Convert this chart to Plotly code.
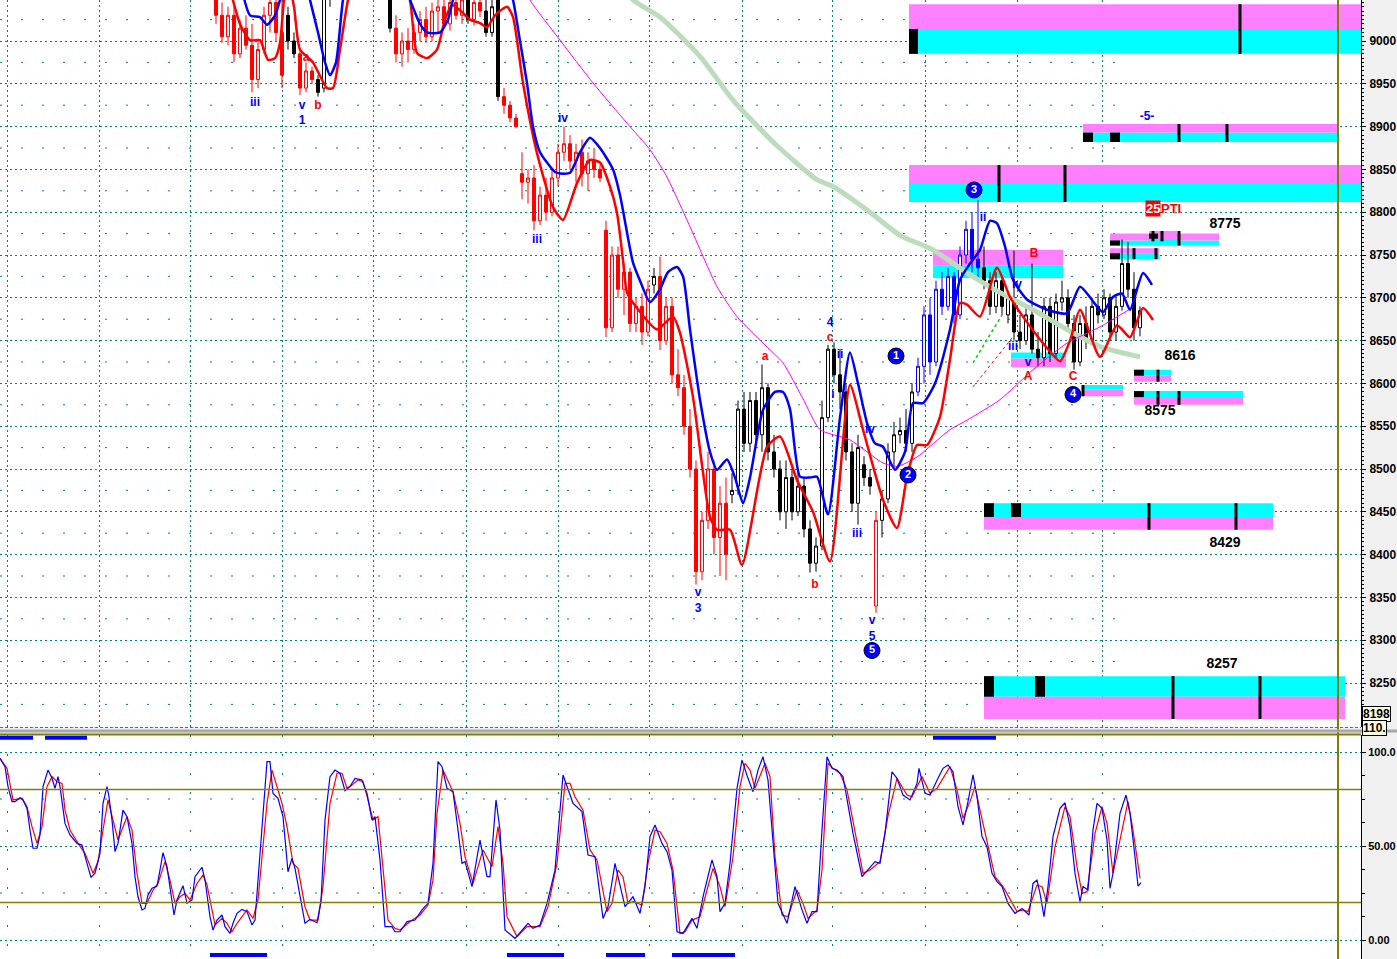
import plotly.graph_objects as go

# ---------------- price bars (one bar every 6 time units) ----------------
bar_t = list(range(216, 1141, 6))
opens = [9050, 9030, 9005, 9030, 8985, 9015, 8995, 8955, 8990, 9030,
         9045, 9010, 9030, 9000, 8985, 8945, 8965, 8955, 8945, 9050,
         9070, 9085, 9095, 9090, 9080, 9075, 9070, 9065, 9060, 9055,
         9015, 8985, 9000, 8990, 9010, 9025, 9005, 9035, 9040, 9020,
         9045, 9030, 9048, 9025, 9045, 9035, 9010, 9060, 8935, 8925,
         8910, 8845, 8835, 8840, 8790, 8820, 8800, 8840, 8870, 8880,
         8860, 8870, 8845, 8860, 8850, 8779, 8665, 8750, 8710, 8730,
         8670, 8690, 8660, 8715, 8725, 8650, 8690, 8610, 8595, 8550,
         8500, 8380, 8440, 8500, 8420, 8460, 8470, 8480, 8570, 8530,
         8580, 8540, 8595, 8520, 8500, 8450, 8490, 8450, 8480, 8430,
         8390, 8410, 8560, 8640, 8610, 8590, 8520, 8460, 8505, 8490,
         8340, 8440, 8465, 8520, 8540, 8545, 8530, 8590, 8620, 8680,
         8625, 8710, 8690, 8725, 8680, 8750, 8780, 8745, 8735, 8720,
         8690, 8720, 8680, 8700, 8660, 8650, 8680, 8640, 8630, 8690,
         8635, 8695, 8700, 8670, 8625, 8670, 8650, 8690, 8680, 8700,
         8660, 8690, 8740, 8710, 8665]
highs = [9065, 9045, 9040, 9040, 9025, 9030, 9020, 9000, 9040, 9060,
         9060, 9050, 9040, 9010, 8990, 8975, 8970, 8960, 9060, 9080,
         9095, 9105, 9110, 9100, 9095, 9090, 9085, 9080, 9075, 9070,
         9030, 9010, 9015, 9020, 9035, 9040, 9045, 9055, 9060, 9050,
         9060, 9055, 9060, 9052, 9060, 9055, 9050, 9065, 8945, 8930,
         8915, 8870, 8850, 8855, 8830, 8840, 8850, 8880, 8900, 8890,
         8880, 8885, 8870, 8875, 8855, 8790, 8760, 8760, 8740, 8735,
         8700, 8705, 8720, 8735, 8748, 8700, 8700, 8640, 8610, 8570,
         8510, 8450, 8520, 8510, 8480, 8490, 8495, 8580, 8590, 8590,
         8590, 8622, 8600, 8540, 8510, 8510, 8500, 8500, 8490, 8440,
         8420, 8580, 8645, 8648, 8640, 8600, 8530, 8540, 8515, 8500,
         8450, 8475, 8530, 8555, 8560, 8570, 8600, 8630, 8690, 8700,
         8720, 8730, 8735, 8730, 8760, 8790, 8800, 8814, 8760, 8730,
         8730, 8725, 8705, 8755, 8680, 8690, 8740, 8660, 8700, 8700,
         8705, 8720, 8710, 8680, 8680, 8690, 8700, 8705, 8710, 8705,
         8700, 8768, 8765, 8730, 8690]
lows = [9020, 8998, 8995, 8975, 8980, 8990, 8940, 8945, 8985, 9010,
        9000, 8945, 8990, 8980, 8937, 8940, 8950, 8935, 8940, 9040,
        9060, 9075, 9080, 9070, 9065, 9060, 9058, 9055, 9052, 9010,
        8975, 8970, 8975, 8985, 9000, 8998, 9000, 9010, 9015, 9012,
        9025, 9020, 9020, 9018, 9028, 9005, 9005, 8930, 8915, 8905,
        8898, 8815, 8810, 8779, 8785, 8790, 8795, 8830, 8860, 8850,
        8835, 8830, 8825, 8840, 8835, 8654, 8660, 8700, 8680, 8660,
        8660, 8645, 8655, 8705, 8639, 8645, 8600, 8585, 8540, 8490,
        8365, 8370, 8430, 8400, 8375, 8370, 8460, 8470, 8520, 8520,
        8530, 8520, 8510, 8490, 8440, 8430, 8440, 8445, 8420, 8379,
        8380, 8405, 8555, 8600, 8570, 8510, 8450, 8435, 8480, 8470,
        8332, 8420, 8460, 8500, 8530, 8520, 8520, 8585, 8600, 8610,
        8620, 8680, 8685, 8670, 8675, 8740, 8730, 8720, 8710, 8680,
        8682, 8680, 8670, 8650, 8640, 8645, 8635, 8620, 8620, 8625,
        8630, 8685, 8665, 8616, 8620, 8640, 8645, 8670, 8675, 8650,
        8650, 8685, 8700, 8650, 8655]
closes = [9030, 9005, 9030, 8985, 9015, 8995, 8955, 8990, 9030, 9045,
          9010, 8960, 9000, 8985, 8945, 8965, 8955, 8940, 9050, 9070,
          9085, 9095, 9090, 9080, 9075, 9070, 9065, 9060, 9055, 9015,
          8985, 9000, 8990, 9010, 9025, 9005, 9035, 9040, 9020, 9045,
          9030, 9048, 9025, 9045, 9035, 9010, 9040, 8935, 8925, 8910,
          8900, 8835, 8840, 8790, 8820, 8800, 8840, 8870, 8880, 8860,
          8870, 8845, 8860, 8850, 8840, 8665, 8750, 8710, 8730, 8670,
          8690, 8660, 8710, 8725, 8650, 8690, 8610, 8595, 8550, 8500,
          8380, 8440, 8500, 8420, 8460, 8400, 8475, 8570, 8530, 8580,
          8540, 8595, 8520, 8500, 8450, 8490, 8450, 8480, 8430, 8390,
          8410, 8560, 8640, 8610, 8590, 8520, 8460, 8525, 8490, 8480,
          8440, 8465, 8520, 8540, 8545, 8530, 8590, 8620, 8680, 8625,
          8710, 8690, 8725, 8680, 8750, 8780, 8745, 8735, 8720, 8690,
          8720, 8690, 8700, 8660, 8650, 8680, 8640, 8630, 8690, 8635,
          8695, 8700, 8670, 8625, 8670, 8650, 8690, 8680, 8700, 8660,
          8690, 8740, 8710, 8665, 8685]
# trend state of each bar: D = down (red), N = neutral (black), U = up (blue)
regime_runs = [("D", 12), ("N", 2), ("D", 3), ("N", 13), ("D", 12), ("N", 1), ("D", 2),
               ("N", 3), ("D", 25), ("N", 1), ("D", 12), ("N", 24), ("D", 1), ("N", 6),
               ("U", 11), ("N", 27)]

# ---------------- overlay curves (time, price) ----------------
blue_t = [240, 250, 260, 267, 275, 280, 286, 300, 306, 310, 318, 325, 330, 336, 343, 350, 370, 400, 410, 420,
          427, 440, 448, 453, 460, 490, 508, 513, 520, 527, 533, 540, 547, 555, 563, 570, 580, 590, 600, 613,
          620, 633, 640, 650, 660, 668, 677, 683, 690, 700, 710, 717, 727, 735, 743, 750, 763, 775, 783, 790,
          800, 810, 817, 828, 840, 850, 858, 867, 875, 883, 895, 905, 913, 923, 935, 950, 960, 970, 980, 990,
          997, 1005, 1013, 1027, 1047, 1067, 1080, 1097, 1103, 1113, 1122, 1130, 1143, 1152]
blue_p = [9070, 9030, 9028, 9019, 9030, 9048, 9075, 9090, 9070, 9048, 9010, 8975, 8960, 8975, 9048, 9080, 9100, 9080, 9048, 9020,
          9010, 9010, 9025, 9048, 9070, 9080, 9065, 9048, 9000, 8951, 8900, 8870, 8858, 8847, 8845, 8846, 8870, 8887, 8875, 8850,
          8820, 8741, 8720, 8695, 8710, 8730, 8736, 8725, 8663, 8581, 8520, 8499, 8511, 8490, 8460, 8490, 8569, 8590, 8590, 8570,
          8491, 8490, 8491, 8447, 8560, 8636, 8600, 8554, 8530, 8526, 8499, 8520, 8577, 8577, 8600, 8663, 8721, 8740, 8756, 8790,
          8787, 8760, 8721, 8698, 8686, 8682, 8713, 8690, 8683, 8701, 8705, 8686, 8729, 8715]
red_t = [228, 240, 250, 260, 268, 275, 280, 284, 288, 294, 300, 313, 327, 333, 340, 348, 355, 400, 410, 417,
         427, 437, 445, 452, 460, 470, 480, 487, 495, 507, 513, 523, 537, 553, 563, 577, 590, 600, 610, 617,
         623, 627, 637, 657, 673, 680, 693, 710, 717, 730, 742, 767, 780, 797, 813, 830, 850, 863, 883, 897,
         907, 917, 927, 940, 950, 960, 967, 980, 997, 1010, 1023, 1043, 1060, 1070, 1080, 1100, 1117, 1130, 1143, 1153]
red_p = [9070, 9020, 9001, 9001, 8978, 8980, 8998, 9048, 9070, 9040, 8990, 8975, 8945, 8945, 8990, 9048, 9075, 9080, 9048, 8986,
         8980, 8990, 9025, 9042, 9036, 9025, 9021, 9016, 9030, 9040, 9028, 8951, 8869, 8806, 8791, 8834, 8861, 8858, 8830, 8799,
         8744, 8706, 8688, 8663, 8678, 8659, 8584, 8444, 8429, 8429, 8388, 8526, 8538, 8487, 8450, 8392, 8598, 8546, 8464, 8431,
         8491, 8528, 8528, 8561, 8628, 8694, 8692, 8678, 8735, 8701, 8678, 8647, 8626, 8650, 8686, 8631, 8668, 8654, 8688, 8674]
mag_t = [525, 530, 560, 593, 627, 650, 667, 690, 717, 737, 763, 783, 803, 820, 850, 883, 897, 917, 950, 967,
         1000, 1033, 1067, 1100, 1133]
mag_p = [9065, 9048, 9001, 8951, 8904, 8873, 8841, 8783, 8713, 8678, 8647, 8624, 8582, 8546, 8534, 8507, 8503, 8514, 8546, 8557,
         8581, 8616, 8647, 8666, 8689]
grn_t = [628, 633, 660, 700, 733, 775, 817, 833, 870, 900, 933, 967, 1000, 1033, 1067, 1100, 1140]
grn_p = [9060, 9048, 9028, 8982, 8931, 8880, 8838, 8830, 8800, 8773, 8756, 8729, 8706, 8686, 8663, 8643, 8631]
proj_green_t = [973, 1002]
proj_green_p = [8624, 8680]
proj_red_t = [973, 1012]
proj_red_p = [8596, 8653]

# ---------------- wave labels ----------------
blue_lbl_t = [255, 302, 302, 537, 563, 698, 698, 830, 840, 833, 857, 870, 872, 872, 983, 1017, 1013, 1028, 1147]
blue_lbl_p = [8927, 8924, 8906, 8768, 8909, 8355, 8337, 8671, 8633, 8587, 8424, 8546, 8322, 8304, 8793, 8715, 8642, 8624, 8911]
blue_lbl = ["iii", "v", "1", "iii", "iv", "v", "3", "4", "ii", "i", "iii", "iv", "v", "5", "ii", "iv", "iii", "v", "-5-"]
red_lbl_t = [306, 318, 765, 815, 830, 1034, 1028, 1073]
red_lbl_p = [8980, 8924, 8631, 8365, 8653, 8751, 8608, 8607]
red_lbl = ["a", "b", "a", "b", "c", "B", "A", "C"]
circ_t = [896, 908, 974, 1073, 872]
circ_p = [8632, 8493, 8826, 8587, 8288]
circ_lbl = ["1", "2", "3", "4", "5"]
lvl_t = [1225, 1180, 1160, 1225, 1222]
lvl_p = [8786, 8632, 8567, 8413, 8272]
lvl_lbl = ["8775", "8616", "8575", "8429", "8257"]

# ---------------- projection zones ----------------
zone_t0 = [909, 1083, 909, 933, 1011, 1082, 1110, 1149, 1110, 1134, 1134, 984, 984]
zone_t1 = [1361, 1338, 1361, 1063, 1066, 1123, 1219, 1177, 1159, 1171, 1243, 1273, 1345]
zone_mag_lo = [9014, 8893, 8834, 8738, 8619, 8585, 8767, 8768, 8752, 8602, 8575, 8429, 8208]
zone_mag_hi = [9043, 8903, 8855, 8756, 8629, 8593, 8775, 8778, 8758, 8609, 8584, 8444, 8234]
zone_cyan_lo = [8985, 8882, 8812, 8723, 8629, 8593, 8761, 8761, 8745, 8609, 8584, 8444, 8234]
zone_cyan_hi = [9014, 8893, 8834, 8738, 8636, 8598, 8767, 8768, 8752, 8616, 8591, 8460, 8258]
blk_t0 = [909, 1083, 1110, 1110, 1149, 1110, 1134, 1134, 984, 1011, 984, 1035]
blk_t1 = [918, 1093, 1120, 1120, 1158, 1120, 1144, 1144, 994, 1021, 994, 1045]
blk_lo = [8985, 8882, 8882, 8761, 8769, 8745, 8609, 8584, 8444, 8444, 8234, 8234]
blk_hi = [9014, 8893, 8893, 8767, 8775, 8752, 8616, 8591, 8460, 8460, 8258, 8258]
tick_t = [1240, 1179, 1227, 999, 1065, 1083, 1153, 1162, 1179, 1134, 1156, 1158, 1158, 1179, 1149, 1236, 1173, 1260]
tick_lo = [8985, 8882, 8882, 8812, 8812, 8585, 8766, 8766, 8761, 8745, 8745, 8602, 8575, 8575, 8429, 8429, 8208, 8208]
tick_hi = [9043, 8903, 8903, 8855, 8855, 8598, 8778, 8778, 8778, 8758, 8758, 8616, 8591, 8591, 8460, 8460, 8258, 8258]

# ---------------- stochastic ----------------
k_t = [0, 5, 8, 12, 15, 20, 23, 27, 30, 33, 37, 40, 43, 48, 52, 55, 58, 60, 65, 70,
       77, 82, 87, 91, 95, 100, 103, 107, 109, 112, 115, 118, 123, 127, 132, 135, 138, 142, 145, 148,
       152, 157, 160, 163, 167, 171, 174, 177, 183, 187, 192, 195, 202, 205, 210, 213, 217, 222, 225, 230,
       233, 237, 242, 247, 252, 255, 257, 262, 267, 270, 273, 278, 283, 288, 292, 295, 300, 305, 310, 317,
       321, 325, 330, 335, 340, 345, 350, 355, 362, 367, 372, 375, 380, 385, 392, 395, 400, 407, 415, 422,
       428, 433, 438, 442, 447, 453, 458, 462, 465, 472, 480, 487, 490, 496, 500, 505, 515, 528, 533, 540,
       547, 555, 563, 568, 573, 582, 588, 595, 603, 608, 615, 618, 625, 633, 640, 645, 650, 655, 662, 667,
       672, 677, 683, 692, 697, 703, 712, 717, 720, 725, 730, 737, 742, 748, 753, 758, 763, 768, 773, 778,
       787, 795, 802, 807, 812, 817, 822, 827, 832, 837, 843, 848, 853, 862, 870, 875, 880, 885, 892, 897,
       903, 910, 917, 919, 925, 930, 938, 943, 948, 953, 958, 963, 968, 973, 977, 982, 987, 992, 997, 1002,
       1008, 1015, 1022, 1029, 1033, 1037, 1040, 1044, 1048, 1053, 1060, 1065, 1070, 1075, 1080, 1083, 1088, 1093, 1097, 1102,
       1107, 1110, 1113, 1120, 1126, 1130, 1135, 1138, 1141]
k_v = [96.6, 92.2, 81.6, 73.6, 73.6, 75.7, 74.5, 70, 58.5, 48.8, 48.8, 55.9, 81.6, 90.4, 86, 80.7, 86.9, 81.6, 62, 55.9,
       51.4, 50.5, 40.8, 33.3, 35.5, 46.1, 72.7, 81.6, 76.2, 63.8, 47, 51.4, 69.1, 65.6, 51.4, 33.7, 23, 16, 16.8, 23.9,
       27.5, 28.7, 37.2, 46.5, 39, 24.8, 13.3, 21.3, 28.9, 19.5, 21.3, 33.7, 38.7, 31.9, 12.4, 5.3, 10.6, 13.3, 7.1, 3.5,
       8.9, 14.2, 16.3, 15.1, 8, 10.6, 24.8, 63.8, 94.9, 94.9, 78, 75.4, 65.6, 36.3, 43.4, 38.1, 23, 8.9, 11, 9.2,
       20.4, 63.8, 86.9, 90.4, 88.7, 79.4, 81.6, 86, 85.1, 78, 63.8, 65.6, 42.6, 7.1, 7.1, 4.4, 4.4, 9.8, 10.6, 16,
       19.5, 40.8, 94.9, 92.2, 80.7, 78.9, 58.5, 40.8, 41.7, 28.4, 53.2, 33.7, 33.7, 74.5, 58.5, 5.3, 0.9, 8.9, 6.2, 8,
       19.5, 37.2, 87.8, 79.8, 72.7, 68.3, 45.2, 44.3, 11.5, 17.7, 40.8, 33.7, 17.7, 23, 14.2, 28.4, 55, 61.2, 51.4, 47,
       37.2, 4.4, 3.5, 11.5, 6.2, 23, 42.6, 33.7, 15.1, 19.5, 40.8, 80.7, 95.7, 86, 78.9, 90.4, 97.5, 85.1, 53.2, 19.5,
       8.9, 28.4, 16, 8.9, 15.1, 15.1, 58.5, 97.5, 91.3, 90.4, 86.9, 70.9, 56.7, 33.7, 39, 41.7, 40.8, 56.7, 89.5, 86,
       77.1, 74.5, 83.3, 91.3, 78, 77.1, 86, 91.3, 93.1, 89.5, 70.9, 61.2, 73.6, 87.8, 76.2, 55, 49.6, 35.5, 31, 28.4,
       19.5, 14.2, 16.8, 13.3, 30.1, 31.9, 24.8, 12.4, 28.4, 55, 70, 73, 60.3, 35.5, 20.4, 28.4, 26.6, 58.5, 72.7, 70,
       53.2, 27.5, 35.5, 67.4, 77.1, 67.4, 44.3, 28.7, 30.5]
d_t = [0, 7, 13, 22, 27, 32, 37, 42, 47, 52, 57, 62, 65, 70, 78, 85, 93, 98, 103, 108,
       113, 118, 127, 132, 137, 142, 147, 153, 158, 165, 170, 175, 180, 185, 190, 197, 203, 207, 215, 222,
       227, 232, 237, 247, 253, 258, 267, 272, 275, 282, 287, 293, 298, 305, 310, 318, 323, 330, 337, 342,
       347, 352, 358, 363, 368, 373, 378, 383, 388, 395, 400, 410, 420, 428, 433, 437, 443, 453, 460, 465,
       473, 483, 492, 498, 503, 507, 517, 527, 540, 548, 557, 565, 570, 575, 583, 590, 597, 607, 612, 618,
       623, 628, 633, 642, 648, 655, 660, 667, 673, 680, 685, 692, 700, 707, 713, 720, 725, 733, 740, 745,
       750, 755, 760, 765, 770, 775, 782, 788, 797, 803, 808, 817, 822, 828, 833, 840, 847, 853, 863, 870,
       880, 888, 897, 907, 912, 922, 930, 937, 950, 957, 963, 970, 975, 980, 987, 995, 1003, 1012, 1017, 1023,
       1028, 1037, 1042, 1047, 1055, 1065, 1070, 1077, 1082, 1087, 1095, 1102, 1107, 1113, 1120, 1128, 1133, 1140]
d_v = [96.6, 91.3, 74.5, 75.4, 70.9, 60.3, 51.4, 60.3, 81.6, 86.9, 84.2, 83.3, 69.1, 58.5, 51.4, 46.1, 35.5, 41.7, 58.5, 74.5,
       63.8, 53.2, 65.6, 58.5, 35.5, 19.5, 19.5, 26.6, 30.1, 41.7, 31.9, 19.5, 23, 24.8, 21.3, 30.1, 34.6, 29.3, 8, 11.5,
       8.9, 4.4, 8.9, 16, 11.5, 21.3, 72.7, 90.4, 85.1, 72.7, 60.3, 40.8, 38.1, 17.7, 10.6, 10.6, 28.4, 72.7, 88.7, 88.7,
       80.7, 82.4, 85.1, 84.2, 74.5, 63.8, 65.6, 37.2, 10.6, 6.2, 5.3, 9.8, 13.3, 18.6, 31.9, 67.4, 90.4, 78.9, 62, 44.3,
       30.1, 47.9, 39, 60.3, 40.8, 12.4, 1.8, 7.1, 7.1, 17.7, 40.8, 83.3, 83.3, 76.2, 69.1, 47.9, 42.6, 15.1, 19.5, 37.2,
       33.7, 19.5, 20.4, 18.6, 40.8, 58.5, 57.6, 51.4, 37.2, 3.5, 4.4, 10.6, 12.4, 26.6, 38.1, 28.4, 17.7, 44.3, 81.6, 94,
       90.4, 80.7, 86.9, 94, 86.9, 44.3, 13.3, 12.4, 26.6, 19.5, 11.5, 16, 37.2, 94, 91.3, 88.7, 79.8, 63.8, 35.5, 37.2,
       41.7, 66, 86, 77.1, 76.2, 86.9, 78, 80.7, 92.2, 79.8, 64.7, 73.6, 81.6, 69.1, 53.2, 33.7, 28.4, 19.5, 15.1, 16,
       15.1, 29.3, 28.4, 19.5, 49.6, 70.9, 65.6, 39, 24.8, 25.7, 56.7, 70.9, 62, 35.5, 53.2, 73.6, 58.5, 32.8]
sig_top_t0 = [0, 45, 933]
sig_top_t1 = [33, 87, 996]
sig_bot_t0 = [210, 507, 606, 672]
sig_bot_t1 = [267, 564, 645, 735]

# vertical grid (session boundaries)
grid_t = [7, 99, 190, 282, 373, 466, 558, 649, 742, 832, 925, 1017, 1102]
price_ticks = list(range(8250, 9001, 50))

# ======================================================================
FONT = "Liberation Sans"
TEAL = "#008080"
OLIVE = "#808000"

fig = go.Figure()

# long-term average (behind everything)
fig.add_trace(go.Scatter(x=grn_t, y=grn_p, mode="lines", line=dict(color="#bcdcbc", width=5, shape="spline", smoothing=0.6),
                         hoverinfo="skip", showlegend=False))

regimes = []
for code, n in regime_runs:
    regimes += [code] * n
regime_color = {"D": "#ff0000", "N": "#000000", "U": "#0000ff"}
for code, col in regime_color.items():
    idx = [i for i, r in enumerate(regimes) if r == code]
    fig.add_trace(go.Candlestick(
        x=[bar_t[i] for i in idx], open=[opens[i] for i in idx], high=[highs[i] for i in idx],
        low=[lows[i] for i in idx], close=[closes[i] for i in idx],
        increasing=dict(line=dict(color=col, width=1), fillcolor="white"),
        decreasing=dict(line=dict(color=col, width=1), fillcolor=col),
        whiskerwidth=0, hoverinfo="skip", showlegend=False))

fig.add_trace(go.Scatter(x=mag_t, y=mag_p, mode="lines", line=dict(color="#ff00ff", width=1, shape="spline", smoothing=0.6),
                         hoverinfo="skip", showlegend=False))
fig.add_trace(go.Scatter(x=red_t, y=red_p, mode="lines", line=dict(color="#ff0000", width=2.5, shape="spline", smoothing=0.6),
                         hoverinfo="skip", showlegend=False))
fig.add_trace(go.Scatter(x=blue_t, y=blue_p, mode="lines", line=dict(color="#0000ff", width=2.5, shape="spline", smoothing=0.6),
                         hoverinfo="skip", showlegend=False))
fig.add_trace(go.Scatter(x=proj_green_t, y=proj_green_p, mode="lines", line=dict(color="#00d000", width=1.5, dash="dot"),
                         hoverinfo="skip", showlegend=False))
fig.add_trace(go.Scatter(x=proj_red_t, y=proj_red_p, mode="lines", line=dict(color="#ff0000", width=1, dash="dot"),
                         hoverinfo="skip", showlegend=False))

# labels
fig.add_trace(go.Scatter(x=blue_lbl_t, y=blue_lbl_p, mode="text", text=blue_lbl,
                         textfont=dict(family=FONT, size=12, color="#0000ff", weight="bold"),
                         hoverinfo="skip", showlegend=False))
fig.add_trace(go.Scatter(x=red_lbl_t, y=red_lbl_p, mode="text", text=red_lbl,
                         textfont=dict(family=FONT, size=12, color="#ff0000", weight="bold"),
                         hoverinfo="skip", showlegend=False))
fig.add_trace(go.Scatter(x=circ_t, y=circ_p, mode="markers+text", text=circ_lbl, textposition="middle center",
                         marker=dict(size=16, color="#0000ff", line=dict(color="black", width=1)),
                         textfont=dict(family=FONT, size=11, color="white", weight="bold"),
                         hoverinfo="skip", showlegend=False))
fig.add_trace(go.Scatter(x=lvl_t, y=lvl_p, mode="text", text=lvl_lbl,
                         textfont=dict(family=FONT, size=14, color="black", weight="bold"),
                         hoverinfo="skip", showlegend=False))

# stochastic
fig.add_trace(go.Scatter(x=d_t, y=d_v, mode="lines", line=dict(color="#ff0000", width=1.2),
                         xaxis="x2", yaxis="y2", hoverinfo="skip", showlegend=False))
fig.add_trace(go.Scatter(x=k_t, y=k_v, mode="lines", line=dict(color="#0000ff", width=1.2),
                         xaxis="x2", yaxis="y2", hoverinfo="skip", showlegend=False))
sx, sy = [], []
for a, b in zip(sig_top_t0, sig_top_t1):
    sx += [a, b, None]
    sy += [107.6, 107.6, None]
for a, b in zip(sig_bot_t0, sig_bot_t1):
    sx += [a, b, None]
    sy += [-8.0, -8.0, None]
fig.add_trace(go.Scatter(x=sx, y=sy, mode="lines", line=dict(color="#0000ff", width=4),
                         xaxis="x2", yaxis="y2", hoverinfo="skip", showlegend=False))

# ---------------- shapes ----------------
shapes = []
for lvl in range(8225, 9049, 50):
    shapes.append(dict(type="line", xref="x", yref="y", x0=0, x1=1125, y0=lvl, y1=lvl, layer="below",
                       line=dict(color=TEAL, width=1, dash="2px,19px")))
for lvl in (25, 75):
    shapes.append(dict(type="line", xref="x2", yref="y2", x0=0, x1=1125, y0=lvl, y1=lvl, layer="below",
                       line=dict(color=TEAL, width=1, dash="2px,19px")))
for i in range(len(zone_t0)):
    shapes.append(dict(type="rect", xref="x", yref="y", x0=zone_t0[i], x1=zone_t1[i], y0=zone_cyan_lo[i], y1=zone_cyan_hi[i],
                       fillcolor="#00ffff", line=dict(width=0), layer="between"))
    shapes.append(dict(type="rect", xref="x", yref="y", x0=zone_t0[i], x1=zone_t1[i], y0=zone_mag_lo[i], y1=zone_mag_hi[i],
                       fillcolor="#ff80ff", line=dict(width=0), layer="between"))
for i in range(len(blk_t0)):
    shapes.append(dict(type="rect", xref="x", yref="y", x0=blk_t0[i], x1=blk_t1[i], y0=blk_lo[i], y1=blk_hi[i],
                       fillcolor="black", line=dict(width=0), layer="between"))
for i in range(len(tick_t)):
    shapes.append(dict(type="line", xref="x", yref="y", x0=tick_t[i], x1=tick_t[i], y0=tick_lo[i], y1=tick_hi[i],
                       line=dict(color="black", width=3), layer="between"))
for lvl in (20, 80):
    shapes.append(dict(type="line", xref="paper", yref="y2", x0=0, x1=1, y0=lvl, y1=lvl,
                       line=dict(color=OLIVE, width=1.5), layer="above"))
shapes.append(dict(type="line", xref="x", yref="paper", x0=1338, x1=1338, y0=0, y1=1,
                   line=dict(color=OLIVE, width=2), layer="above"))
shapes.append(dict(type="line", xref="paper", yref="paper", x0=0, x1=1, y0=1 - 727.5 / 959, y1=1 - 727.5 / 959,
                   line=dict(color="#00b000", width=1, dash="3px,2px")))
shapes.append(dict(type="line", xref="paper", yref="paper", x0=0, x1=1.03, y0=1 - 731 / 959, y1=1 - 731 / 959,
                   line=dict(color="#a8a8a8", width=3)))
shapes.append(dict(type="line", xref="paper", yref="paper", x0=0, x1=1, y0=1 - 734.5 / 959, y1=1 - 734.5 / 959,
                   line=dict(color=OLIVE, width=2)))

annotations = [
    dict(x=1153, y=8804, xref="x", yref="y", text="25", showarrow=False, bgcolor="#ff0000", borderpad=0,
         font=dict(family=FONT, size=13, color="white", weight="bold")),
    dict(x=1171, y=8804, xref="x", yref="y", text="PTI", showarrow=False,
         font=dict(family=FONT, size=13, color="#ff0000", weight="bold")),
    dict(x=1, y=1 - 722 / 959, xref="paper", yref="paper", xanchor="left", xshift=1, text="8198", showarrow=False,
         bgcolor="#ffffe0", bordercolor="black", borderwidth=1, borderpad=0,
         font=dict(family=FONT, size=12, color="black", weight="bold")),
    dict(x=1, y=1 - 736 / 959, xref="paper", yref="paper", xanchor="left", xshift=1, text="110.", showarrow=False,
         bgcolor="#ffffe0", bordercolor="black", borderwidth=1, borderpad=0,
         font=dict(family=FONT, size=12, color="black", weight="bold")),
]

tickfont = dict(family=FONT, size=12, color="black", weight="bold")
tickfont2 = dict(family=FONT, size=11, color="black", weight="bold")
fig.update_layout(
    width=1397, height=959, margin=dict(l=0, r=36, t=0, b=0, autoexpand=False),
    paper_bgcolor="#f0f0f0", plot_bgcolor="white", showlegend=False,
    shapes=shapes, annotations=annotations, hovermode=False,
    xaxis=dict(domain=[0, 1], range=[0, 1361], anchor="y", tickmode="array", tickvals=grid_t, showticklabels=False,
               ticks="", showgrid=True, gridcolor=TEAL, griddash="2px,3px", gridwidth=1, zeroline=False,
               showline=False, rangeslider=dict(visible=False), automargin=False),
    xaxis2=dict(domain=[0, 1], range=[0, 1361], anchor="y2", tickmode="array", tickvals=grid_t, showticklabels=False,
                ticks="", showgrid=True, gridcolor=TEAL, griddash="2px,17px", gridwidth=1, zeroline=False, showline=False,
                automargin=False),
    yaxis=dict(domain=[1 - 727 / 959, 1], range=[8198.6, 9047.9], side="right", anchor="x", automargin=False,
               tickmode="array", tickvals=price_ticks, ticktext=[str(v) for v in price_ticks],
               ticks="outside", ticklen=4, tickcolor="black", tickwidth=1, ticklabelstandoff=1,
               showline=True, linecolor="black", linewidth=1, showgrid=True, gridcolor=TEAL, griddash="2px,3px",
               zeroline=False, tickfont=tickfont,
               minor=dict(tickmode="linear", tick0=0, dtick=5, ticklen=2, ticks="outside", tickcolor="black", showgrid=False)),
    yaxis2=dict(domain=[0, 1 - 735 / 959], range=[-10.1, 109.04], side="right", anchor="x2", automargin=False,
                tickmode="array", tickvals=[0, 50, 100], ticktext=["0.00", "50.00", "100.0"],
                ticks="outside", ticklen=4, tickcolor="black", tickwidth=1, ticklabelstandoff=0,
                showline=True, linecolor="black", linewidth=1, showgrid=True, gridcolor=TEAL, griddash="2px,3px",
                zeroline=False, tickfont=tickfont2,
                minor=dict(tickmode="linear", tick0=0, dtick=12.5, ticklen=3, ticks="outside", tickcolor="black", showgrid=False)),
)

fig.write_html("out.html", config={"displayModeBar": False},
               post_script="document.body.style.margin='0px';document.body.style.overflow='hidden';")
